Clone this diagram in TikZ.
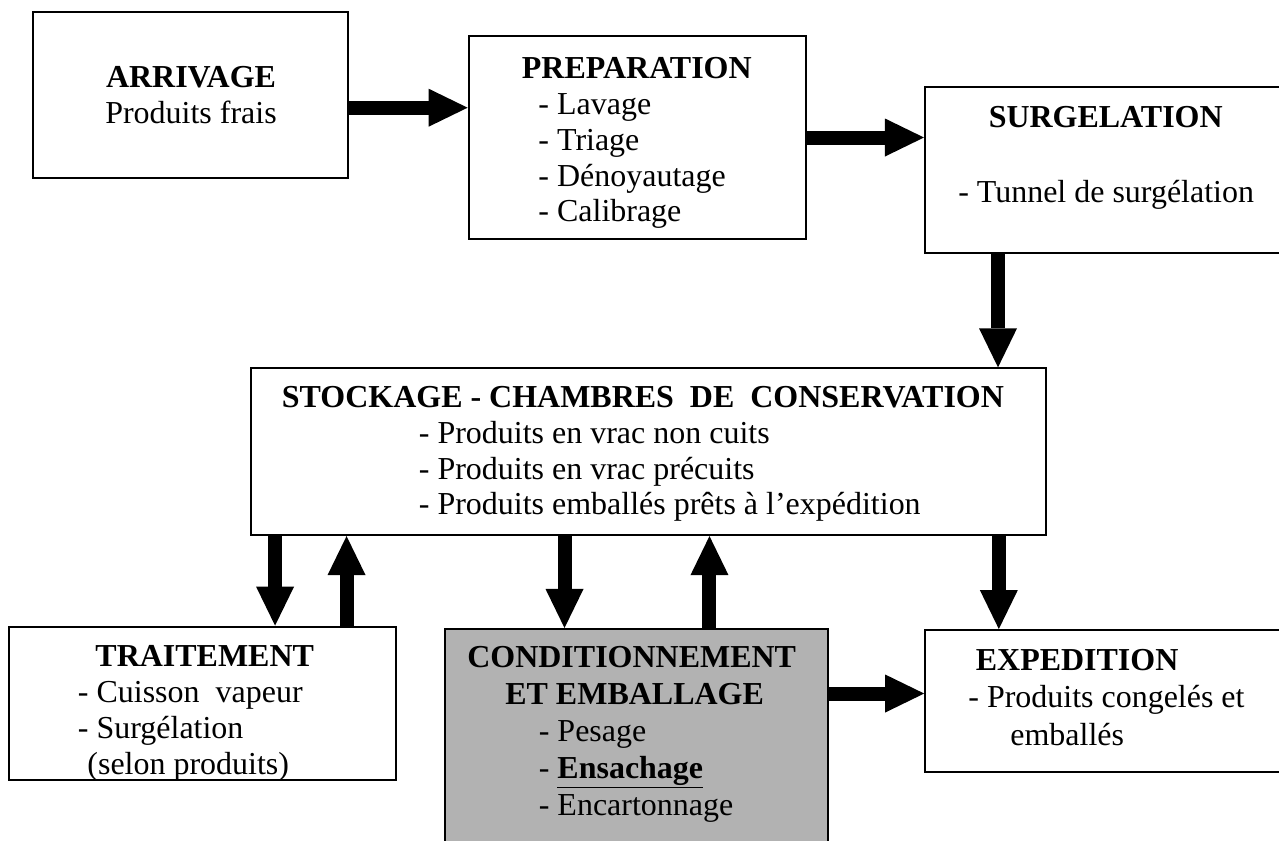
\documentclass[tikz,border=0pt]{standalone}
\usepackage{fontspec}
\setmainfont{Liberation Serif}
\usetikzlibrary{arrows.meta}

\tikzset{
  box/.style={draw, line width=1.2pt, inner sep=0pt},
  txt/.style={inner sep=0pt, anchor=west, font=\fontsize{18.2pt}{20.4pt}\selectfont},
  flow/.style={line width=0.28cm, -{Triangle[length=0.78cm, width=0.76cm, line width=0pt]}},
}

\begin{document}
\begin{tikzpicture}[x=0.02cm, y=-0.02cm]
    \useasboundingbox (0, 0) rectangle (1279, 840);
    \clip (0, 0) rectangle (1279, 840);

    % boxes
    \node [box, minimum width=6.31cm, minimum height=3.32cm] (arrivage) at (190.4, 94.7) {};
    \node [box, minimum width=6.754cm, minimum height=4.06cm] (prep) at (637.5, 137.5) {};
    \node [box, minimum width=7.30cm, minimum height=3.32cm] (surg) at (1107.5, 169.7) {};
    \node [box, minimum width=15.906cm, minimum height=3.334cm] (stock) at (648.7, 451.7) {};
    \node [box, minimum width=7.74cm, minimum height=3.066cm] (trait) at (202.5, 703.3) {};
    \node [box, fill=black!30, minimum width=7.666cm, minimum height=4.42cm] (cond) at (636.7, 739.5) {};
    \node [box, minimum width=7.296cm, minimum height=2.846cm] (exped) at (1107.6, 701.2) {};

    % texts
    \node [txt, anchor=center] (arrivagetxt) at (191, 98.5) {%
      \begin{tabular}{@{}c@{}}
        \textbf{ARRIVAGE}\\
        Produits frais
      \end{tabular}};
    \node [txt] (preptxt) at (521.6, 143) {%
      \begin{tabular}{@{}l@{}}
        \textbf{PREPARATION}\\
        \hspace*{0.33cm}- Lavage\\
        \hspace*{0.33cm}- Triage\\
        \hspace*{0.33cm}- Dénoyautage\\
        \hspace*{0.33cm}- Calibrage
      \end{tabular}};
    \node [txt] (surgtxt) at (957.9, 157.5) {%
      \begin{tabular}{@{}l@{}}
        \hspace*{0.61cm}\textbf{SURGELATION}\\[0.78cm]
        - Tunnel de surgélation
      \end{tabular}};
    \node [txt] (stocktxt) at (281.6, 454) {%
      \begin{tabular}{@{}l@{}}
        \textbf{STOCKAGE - CHAMBRES\ \ DE\ \ CONSERVATION}\\
        \hspace*{2.74cm}- Produits en vrac non cuits\\
        \hspace*{2.74cm}- Produits en vrac précuits\\
        \hspace*{2.74cm}- Produits emballés prêts à l’expédition
      \end{tabular}};
    \node [txt] (traittxt) at (77.6, 713.5) {%
      \begin{tabular}{@{}l@{}}
        \hspace*{0.35cm}\textbf{TRAITEMENT}\\
        - Cuisson\ \ vapeur\\
        - Surgélation\\
        \hspace*{0.19cm}(selon produits)
      \end{tabular}};
    \node [txt] (condtxt) at (467, 734) {%
      \def\arraystretch{1.03}%
      \begin{tabular}{@{}l@{}}
        \textbf{CONDITIONNEMENT}\\
        \hspace*{0.76cm}\textbf{ET EMBALLAGE}\\
        \hspace*{1.43cm}- Pesage\\
        \hspace*{1.43cm}- \textbf{\underline{Ensachage}}\\
        \hspace*{1.43cm}- Encartonnage
      \end{tabular}};
    \node [txt] (expedtxt) at (968, 700.5) {%
      \def\arraystretch{1.04}%
      \begin{tabular}{@{}l@{}}
        \hspace*{0.15cm}\textbf{EXPEDITION}\\
        - Produits congelés et\\
        \hspace*{0.84cm}emballés
      \end{tabular}};

    % arrows
    \coordinate (a1) at ([yshift=-0.26cm]arrivage.east);
    \draw [flow] (a1) -- (a1 -| prep.west);
    \draw [flow] (prep.east) -- (prep.east -| surg.west);

    \coordinate (s1) at ([xshift=-2.19cm]surg.south);
    \draw [flow] (s1) -- (s1 |- stock.north);

    \coordinate (d1) at ([xshift=0.5cm]stock.south west);
    \coordinate (u1) at ([xshift=1.93cm]stock.south west);
    \coordinate (d2) at ([xshift=6.29cm]stock.south west);
    \coordinate (u2) at ([xshift=9.19cm]stock.south west);
    \coordinate (d3) at ([xshift=-0.97cm]stock.south east);
    \draw [flow] (d1) -- (d1 |- trait.north);
    \draw [flow] (u1 |- trait.north) -- (u1);
    \draw [flow] (d2) -- (d2 |- cond.north);
    \draw [flow] (u2 |- cond.north) -- (u2);
    \draw [flow] (d3) -- (d3 |- exped.north);

    \coordinate (c1) at ([yshift=0.92cm]cond.east);
    \draw [flow] (c1) -- (c1 -| exped.west);
\end{tikzpicture}
\end{document}
